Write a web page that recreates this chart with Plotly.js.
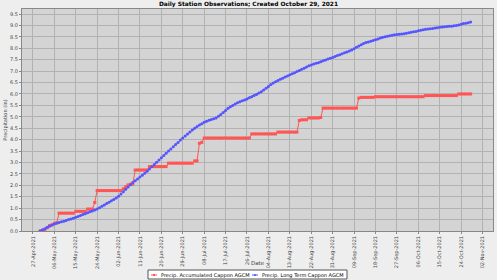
<!DOCTYPE html>
<html>
<head>
<meta charset="utf-8">
<script src="https://cdn.plot.ly/plotly-3.0.1.min.js"></script>
<style>
  html, body { margin: 0; padding: 0; background: #eeeeee; }
  #chart { width: 497px; height: 280px; }
</style>
</head>
<body>
<div id="chart"></div>
<script>
// First observation date; one value per day from here on
var startDate = '2021-04-30';

var seriesNames = ['Precip. Accumulated Cappon AGCM', 'Precip. Long Term Cappon AGCM'];
var seriesColors = ['#ff5555', '#5555ff'];

// Accumulated precipitation (in), daily, Apr 30 .. Oct 28 2021
var accumulated = [
  0.00, 0.00, 0.04, 0.14, 0.24, 0.27, 0.33, 0.36,
  0.78, 0.78, 0.78, 0.78, 0.78, 0.78, 0.78,
  0.86, 0.86, 0.86, 0.86, 0.86,
  0.96, 0.96, 0.96,
  1.25,
  1.77, 1.77, 1.77, 1.77, 1.77, 1.77, 1.77, 1.77, 1.77, 1.77, 1.77,
  1.85, 1.94, 2.02, 2.05, 2.05,
  2.67, 2.67, 2.67, 2.67, 2.67, 2.67,
  2.82, 2.82, 2.82, 2.82, 2.82, 2.82, 2.82, 2.82,
  2.97, 2.97, 2.97, 2.97, 2.97, 2.97, 2.97, 2.97, 2.97, 2.97, 2.97,
  3.07, 3.07,
  3.84, 3.88,
  4.07, 4.07, 4.07, 4.07, 4.07, 4.07, 4.07, 4.07, 4.07, 4.07,
  4.07, 4.07, 4.07, 4.07, 4.07, 4.07, 4.07, 4.07, 4.07, 4.07,
  4.25, 4.25, 4.25, 4.25, 4.25, 4.25, 4.25, 4.25, 4.25, 4.25, 4.25,
  4.33, 4.33, 4.33, 4.33, 4.33, 4.33, 4.33, 4.33, 4.33,
  4.84,
  4.87, 4.87, 4.87,
  4.95, 4.95, 4.95, 4.95, 4.95,
  4.97,
  5.38, 5.38, 5.38, 5.38, 5.38, 5.38, 5.38, 5.38, 5.38, 5.38, 5.38, 5.38, 5.38, 5.38, 5.38,
  5.82,
  5.85, 5.85, 5.85, 5.85, 5.85, 5.85,
  5.88, 5.88, 5.88, 5.88, 5.88, 5.88, 5.88, 5.88, 5.88, 5.88,
  5.88, 5.88, 5.88, 5.88, 5.88, 5.88, 5.88, 5.88, 5.88, 5.88, 5.88,
  5.93, 5.93, 5.93, 5.93, 5.93, 5.93, 5.93, 5.93, 5.93, 5.93, 5.93, 5.93, 5.93, 5.93,
  6.00, 6.00, 6.00, 6.00, 6.00, 6.00
];

// Long-term average accumulated precipitation (in), daily, Apr 30 .. Oct 28
var longTerm = [
  0.00, 0.05, 0.10, 0.16, 0.21, 0.26, 0.31, 0.34, 0.37, 0.40,
  0.43, 0.46, 0.50, 0.53, 0.56, 0.60, 0.64, 0.68, 0.72, 0.76,
  0.80, 0.84, 0.88, 0.92, 0.96, 1.02, 1.08, 1.14, 1.20, 1.26,
  1.32, 1.38, 1.44, 1.52, 1.62, 1.72, 1.83, 1.93, 2.03, 2.12,
  2.20, 2.28, 2.36, 2.44, 2.53, 2.62, 2.71, 2.81, 2.91, 3.01,
  3.11, 3.21, 3.31, 3.40, 3.50, 3.59, 3.69, 3.79, 3.88, 3.98,
  4.07, 4.16, 4.25, 4.34, 4.42, 4.50, 4.57, 4.64, 4.70, 4.76,
  4.81, 4.85, 4.88, 4.91, 4.95, 5.02, 5.10, 5.19, 5.28, 5.37,
  5.44, 5.50, 5.56, 5.61, 5.66, 5.70, 5.74, 5.78, 5.83, 5.88,
  5.93, 5.98, 6.04, 6.10, 6.17, 6.25, 6.33, 6.41, 6.48, 6.54,
  6.59, 6.64, 6.69, 6.74, 6.79, 6.84, 6.89, 6.93, 6.98, 7.03,
  7.08, 7.13, 7.18, 7.23, 7.27, 7.31, 7.34, 7.37, 7.41, 7.45,
  7.49, 7.53, 7.56, 7.60, 7.64, 7.68, 7.72, 7.76, 7.80, 7.84,
  7.88, 7.92, 7.98, 8.04, 8.10, 8.16, 8.21, 8.25, 8.28, 8.31,
  8.34, 8.37, 8.41, 8.45, 8.48, 8.51, 8.53, 8.55, 8.57, 8.59,
  8.60, 8.61, 8.63, 8.64, 8.66, 8.68, 8.70, 8.72, 8.74, 8.77,
  8.79, 8.81, 8.83, 8.84, 8.86, 8.87, 8.89, 8.90, 8.92, 8.93,
  8.94, 8.95, 8.96, 8.97, 8.99, 9.00, 9.02, 9.05, 9.08, 9.10,
  9.12, 9.15
];

function dayDates(n) {
  var out = [];
  var t0 = Date.parse(startDate + 'T00:00:00Z');
  for (var i = 0; i < n; i++) {
    var d = new Date(t0 + i * 86400000);
    out.push(d.toISOString().slice(0, 10));
  }
  return out;
}

var DAY = 86400000;
var font = 'DejaVu Sans, sans-serif';

// plot-area geometry in pixels (for the hand-drawn legend box)
var W = 497, H = 280, ML = 22, MR = 4, MT = 9, MB = 49;
var PW = W - ML - MR, PH = H - MT - MB;
function px(x) { return (x - ML) / PW; }
function py(y) { return (H - MB - y) / PH; }

var traces = [
  {
    type: 'scatter', mode: 'lines+markers',
    name: seriesNames[0],
    x: dayDates(accumulated.length), y: accumulated,
    line: { color: seriesColors[0], width: 1 },
    marker: { color: seriesColors[0], size: 3, symbol: 'square' }
  },
  {
    type: 'scatter', mode: 'lines+markers',
    name: seriesNames[1],
    x: dayDates(longTerm.length), y: longTerm,
    line: { color: seriesColors[1], width: 1 },
    marker: { color: seriesColors[1], size: 3, symbol: 'circle' }
  }
];

var legY = py(275);
var shapes = [
  { type: 'rect', xref: 'paper', yref: 'paper', x0: px(148), x1: px(347), y0: py(279), y1: py(270),
    line: { color: '#555555', width: 1 }, fillcolor: '#ffffff', layer: 'above' },
  { type: 'line', xref: 'paper', yref: 'paper', x0: px(151), x1: px(157), y0: legY, y1: legY,
    line: { color: seriesColors[0], width: 1 } },
  { type: 'rect', xref: 'paper', yref: 'paper', x0: px(153), x1: px(155), y0: py(276), y1: py(274),
    line: { color: seriesColors[0], width: 0 }, fillcolor: seriesColors[0] },
  { type: 'line', xref: 'paper', yref: 'paper', x0: px(252), x1: px(258), y0: legY, y1: legY,
    line: { color: seriesColors[1], width: 1 } },
  { type: 'circle', xref: 'paper', yref: 'paper', x0: px(254), x1: px(256), y0: py(276), y1: py(274),
    line: { color: seriesColors[1], width: 0 }, fillcolor: seriesColors[1] }
];

var annotations = [
  { xref: 'paper', yref: 'paper', x: px(159), y: legY, xanchor: 'left', yanchor: 'middle',
    text: seriesNames[0], showarrow: false, font: { family: font, size: 5, color: '#000000' } },
  { xref: 'paper', yref: 'paper', x: px(260), y: legY, xanchor: 'left', yanchor: 'middle',
    text: seriesNames[1], showarrow: false, font: { family: font, size: 5, color: '#000000' } },
  { xref: 'paper', yref: 'paper', x: 0.5, y: py(263), xanchor: 'center', yanchor: 'middle',
    text: 'Date', showarrow: false, font: { family: font, size: 5.5, color: '#444444' } }
];

var layout = {
  width: W, height: H,
  margin: { l: ML, r: MR, t: MT, b: MB },
  paper_bgcolor: '#eeeeee',
  plot_bgcolor: '#d4d4d4',
  font: { family: font, size: 5, color: '#444444' },
  title: {
    text: 'Daily Station Observations; Created October 29, 2021',
    font: { family: font, size: 5.9, color: '#000000', weight: 'bold' },
    x: 0.5, xanchor: 'center', xref: 'container', y: 1 - 1.5 / H, yanchor: 'top', yref: 'container'
  },
  showlegend: false,
  shapes: shapes,
  annotations: annotations,
  xaxis: {
    type: 'date',
    range: ['2021-04-22 10:00', '2021-11-06 10:00'],
    tickmode: 'linear', tick0: '2021-04-27', dtick: 9 * DAY,
    tickformat: '%d-%b-%Y', tickangle: -90,
    tickfont: { family: font, size: 5, color: '#444444' },
    ticks: 'outside', ticklen: 2, tickcolor: '#888888',
    showgrid: true, gridcolor: '#b2b2b2', gridwidth: 1,
    showline: true, linecolor: '#888888', linewidth: 1, mirror: true,
    zeroline: false, automargin: false
  },
  yaxis: {
    range: [0, 9.72],
    tickmode: 'linear', tick0: 0, dtick: 0.5, tickformat: '.1f',
    tickfont: { family: font, size: 5, color: '#444444' },
    ticks: 'outside', ticklen: 2, tickcolor: '#888888',
    showgrid: true, gridcolor: '#b2b2b2', gridwidth: 1,
    showline: true, linecolor: '#888888', linewidth: 1, mirror: true,
    zeroline: false, automargin: false,
    title: { text: 'Precipitation (in)', font: { family: font, size: 5, color: '#444444' }, standoff: 2 }
  }
};

Plotly.newPlot('chart', traces, layout, { displayModeBar: false, staticPlot: true });
</script>
</body>
</html>
